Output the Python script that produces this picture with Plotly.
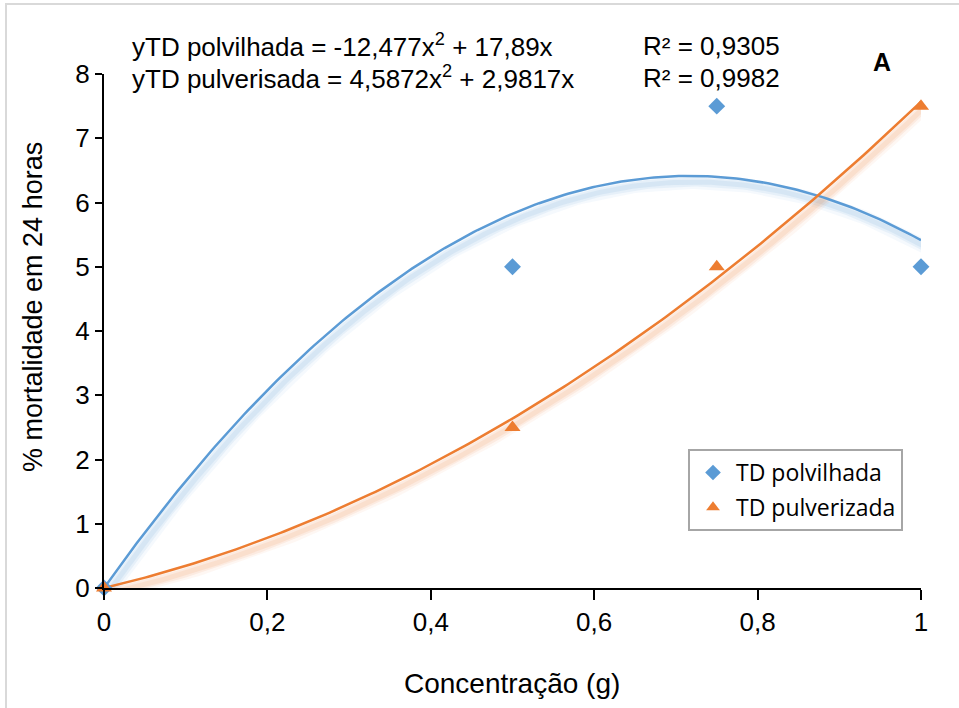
import numpy as np
import plotly.graph_objects as go

# Data
conc = [0, 0.5, 0.75, 1]
polvilhada = [0, 5, 7.5, 5]
pulverizada = [0, 2.5, 5, 7.5]
# Trendline coefficients (y = a x^2 + b x)
coef_polv = (-12.477, 17.89)
coef_pulv = (4.5872, 2.9817)
r2_polv = "0,9305"
r2_pulv = "0,9982"
x_ticks = [0, 0.2, 0.4, 0.6, 0.8, 1]
x_ticktext = ["0", "0,2", "0,4", "0,6", "0,8", "1"]
y_ticks = list(range(0, 9))

BLUE = "#5B9BD5"
ORANGE = "#ED7D31"

W, H = 959, 708
L, R, T, B = 104, 38, 74, 120
PW, PH = W - L - R, H - T - B
px_y = 8 / PH
px_x = 1 / PW

def px(xp):
    return (xp - L) / PW

def py(yp):
    return 1 - (yp - T) / PH

xs = np.linspace(0, 1, 200)
fig = go.Figure()

def trend(coef):
    return coef[0] * xs**2 + coef[1] * xs

# glow / shadow under trendlines
for coef, rgb in [(coef_polv, "91,155,213"), (coef_pulv, "237,125,49")]:
    ys = trend(coef)
    for w, a in [(14, 0.06), (9, 0.09), (5, 0.11)]:
        fig.add_trace(go.Scatter(x=xs + 3 * px_x, y=ys - 6 * px_y, mode="lines",
                                 line=dict(color=f"rgba({rgb},{a})", width=w),
                                 showlegend=False, hoverinfo="skip", cliponaxis=True))

fig.add_trace(go.Scatter(x=xs, y=trend(coef_polv), mode="lines",
                         line=dict(color=BLUE, width=2.5), showlegend=False))
fig.add_trace(go.Scatter(x=xs, y=trend(coef_pulv), mode="lines",
                         line=dict(color=ORANGE, width=2.5), showlegend=False))

fig.add_trace(go.Scatter(x=conc, y=polvilhada, mode="markers", name="TD polvilhada",
                         legendgroup="a",
                         marker=dict(symbol="diamond", size=13, color=BLUE),
                         cliponaxis=False))
fig.add_trace(go.Scatter(x=conc, y=pulverizada, mode="markers", name="TD pulverizada",
                         legendgroup="b",
                         marker=dict(symbol="triangle-up", size=14, color=ORANGE),
                         cliponaxis=False))

font_main = "Liberation Sans, Arial, sans-serif"

fig.update_layout(
    width=W, height=H,
    margin=dict(l=L, r=R, t=T, b=B),
    paper_bgcolor="white", plot_bgcolor="white",
    font=dict(family=font_main, color="black", size=24),
    xaxis=dict(range=[0, 1], tickvals=x_ticks, ticktext=x_ticktext,
               showgrid=False, zeroline=False, showline=True, linecolor="black", linewidth=2,
               ticks="outside", ticklen=10, tickwidth=2, tickcolor="black",
               tickfont=dict(size=26)),
    yaxis=dict(range=[0, 8], tickvals=y_ticks,
               showgrid=False, zeroline=False, showline=True, linecolor="black", linewidth=2,
               ticks="outside", ticklen=7, tickwidth=2, tickcolor="black",
               tickfont=dict(size=26)),
    legend=dict(x=px(688), y=py(449),
                xanchor="left", yanchor="top",
                bgcolor="white", bordercolor="#A6A6A6", borderwidth=2,
                font=dict(family="Open Sans, sans-serif", size=23, color="black"),
                itemsizing="constant", itemwidth=36, tracegroupgap=2),
    showlegend=True,
)

# axis titles
fig.add_annotation(text="Concentração (g)", xref="paper", yref="paper",
                   x=px(512), y=py(683), xanchor="center", yanchor="middle",
                   showarrow=False, font=dict(size=28))
fig.add_annotation(text="% mortalidade em 24 horas", xref="paper", yref="paper",
                   x=px(33), y=py(307), xanchor="center", yanchor="middle",
                   textangle=-90, showarrow=False, font=dict(size=27))

eq1 = f"yTD polvilhada = {str(coef_polv[0]).replace('.', ',')}x<sup>2</sup> + {str(coef_polv[1]).replace('.', ',')}x"
eq2 = f"yTD pulverisada = {str(coef_pulv[0]).replace('.', ',')}x<sup>2</sup> + {str(coef_pulv[1]).replace('.', ',')}x"
for txt, yp in [(eq1, 46), (eq2, 78)]:
    fig.add_annotation(text=txt, xref="paper", yref="paper",
                       x=px(130), y=py(yp),
                       xanchor="left", yanchor="middle", showarrow=False,
                       font=dict(size=26))
for txt, yp in [(f"R² = {r2_polv}", 46), (f"R² = {r2_pulv}", 78)]:
    fig.add_annotation(text=txt, xref="paper", yref="paper",
                       x=px(641), y=py(yp),
                       xanchor="left", yanchor="middle", showarrow=False,
                       font=dict(size=26))
fig.add_annotation(text="<b>A</b>", xref="paper", yref="paper",
                   x=px(882), y=py(62),
                   xanchor="center", yanchor="middle", showarrow=False,
                   font=dict(size=25))

# outer border (light gray)
fig.add_shape(type="rect", xref="paper", yref="paper",
              x0=px(6), x1=px(W + 10), y0=py(H + 10), y1=py(4),
              line=dict(color="#D9D9D9", width=2), layer="below")

fig.write_html("out.html")
